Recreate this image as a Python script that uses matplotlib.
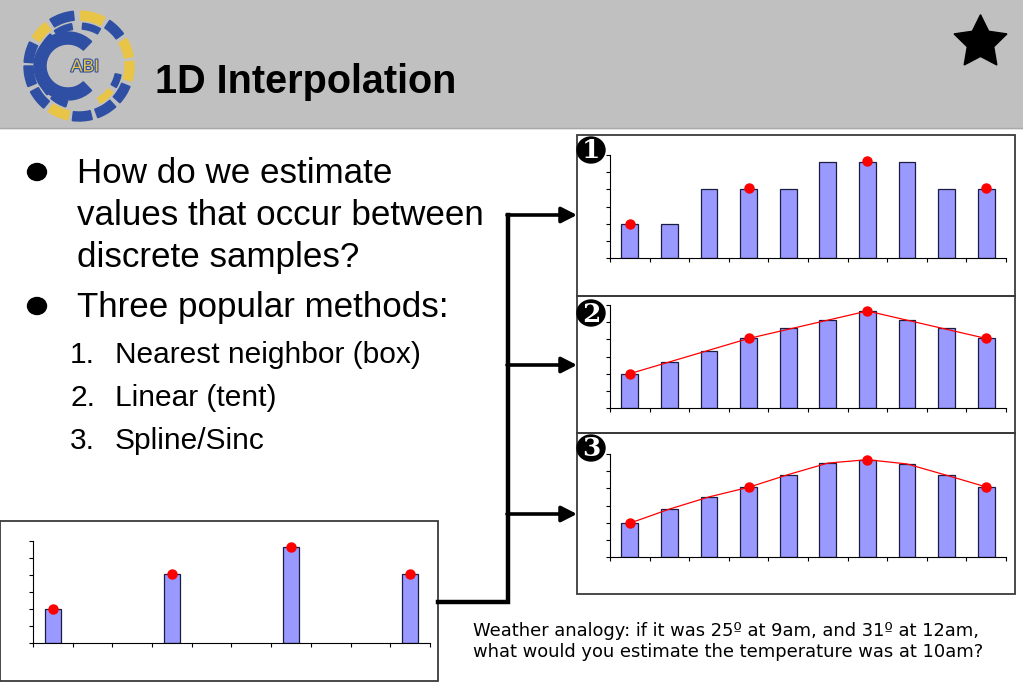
import matplotlib
matplotlib.use('Agg')
import matplotlib.pyplot as plt
from matplotlib.patches import Rectangle, Ellipse, Wedge
import matplotlib.patheffects as pe

# ---------------- data ----------------
slots = list(range(10))                 # 10 sample positions along the x axis
sample_slots = [0, 3, 6, 9]             # known (discrete) samples
sample_vals = [2.0, 4.05, 5.65, 4.05]
nearest_vals = [2.0, 2.0, 4.0, 4.0, 4.0, 5.6, 5.6, 5.6, 4.0, 4.0]
linear_vals = [2.0, 2.67, 3.31, 4.06, 4.65, 5.1, 5.65, 5.1, 4.65, 4.06]
spline_vals = [1.97, 2.79, 3.5, 4.06, 4.8, 5.47, 5.67, 5.42, 4.76, 4.08]

title = "1D Interpolation"
bullets = [["How do we estimate", "values that occur between", "discrete samples?"],
           ["Three popular methods:"]]
methods = ["Nearest neighbor (box)", "Linear (tent)", "Spline/Sinc"]
weather = ["Weather analogy: if it was 25º at 9am, and 31º at 12am,",
           "what would you estimate the temperature was at 10am?"]

BAR = '#9999ff'
EDGE = '#1c1c40'
BLUE = '#2e4fa3'
YEL = '#e8c547'

W, H = 1023, 682
fig = plt.figure(figsize=(W / 100, H / 100), dpi=100)
bg = fig.add_axes([0, 0, 1, 1])
bg.set_xlim(0, W)
bg.set_ylim(H, 0)
bg.axis('off')

# header band
bg.add_patch(Rectangle((0, 0), W, 128, color='#c0c0c0', zorder=0))
bg.plot([0, W], [128, 128], color='#a9a9a9', lw=1)

# logo
cx, cy = 79, 66
outer = [(62, 88, YEL), (36, 56, BLUE), (10, 30, YEL), (-16, 5, YEL), (-42, -22, BLUE),
         (-70, -48, BLUE), (-97, -76, BLUE), (-124, -102, YEL), (-152, -130, BLUE),
         (-180, -158, BLUE), (154, 176, BLUE), (128, 148, YEL), (96, 122, BLUE)]
for a1, a2, c in outer:
    bg.add_patch(Wedge((cx, cy), 55, -a2, -a1, width=9, color=c, zorder=2))
middle = [(100, 125, BLUE), (132, 158, BLUE), (165, 190, BLUE), (197, 222, BLUE),
          (229, 252, BLUE), (-60, -38, YEL), (-30, -12, BLUE), (60, 85, BLUE)]
for a1, a2, c in middle:
    bg.add_patch(Wedge((cx, cy), 43, -a2, -a1, width=6, color=c, zorder=2))
bg.add_patch(Wedge((68, 66), 34, -(360 - 46), -46, width=12, color=BLUE, zorder=3))
bg.text(85, 67, "ABI", fontsize=12.5, color=YEL, ha='center', va='center',
        family='Liberation Sans', zorder=4,
        path_effects=[pe.withStroke(linewidth=1.6, foreground=BLUE)])

bg.text(155, 93, title, fontsize=28.5, fontweight='bold', family='Liberation Sans',
        va='baseline', ha='left', color='black')
bg.plot(980, 42, marker=(5, 1, 0), ms=40, color='black', mec='black')

# bullet text
y_base = [183, 225, 267]
for i, line in enumerate(bullets[0]):
    bg.text(77, y_base[i], line, fontsize=25.2, family='Liberation Sans', va='baseline')
bg.text(77, 317, bullets[1][0], fontsize=25.2, family='Liberation Sans', va='baseline')
for yc in (172, 306):
    bg.add_patch(Ellipse((37, yc), 19, 17, color='black'))
for i, (m, yb) in enumerate(zip(methods, [363, 406, 449])):
    bg.text(70, yb, f"{i + 1}.", fontsize=21.5, family='Liberation Sans', va='baseline')
    bg.text(115, yb, m, fontsize=21.5, family='Liberation Sans', va='baseline')

# weather text
bg.text(473, 636, weather[0], fontsize=12.9, family='DejaVu Sans', va='baseline')
bg.text(473, 657, weather[1], fontsize=12.9, family='DejaVu Sans', va='baseline')

# panel frames
for (x0, y0, x1, y1) in [(577, 135, 1015, 296), (577, 296, 1015, 433), (577, 433, 1015, 594),
                         (0, 521, 438, 681)]:
    bg.add_patch(Rectangle((x0, y0), x1 - x0, y1 - y0, fill=False, ec='#3a3a3a', lw=1.3,
                           zorder=1))

# badges
for k, yc in enumerate([150, 313, 448]):
    bg.add_patch(Ellipse((591, yc), 28, 26, color='black', zorder=5))
    bg.text(591, yc + 1, str(k + 1), fontsize=19, fontweight='bold', color='white',
            family='DejaVu Serif', ha='center', va='center', zorder=6)

# connector arrows
bg.plot([438, 508, 508], [602, 602, 215], color='black', lw=3.2,
        solid_capstyle='projecting', solid_joinstyle='miter', zorder=3)
for ya in (215, 365, 514):
    bg.annotate('', xy=(577, ya), xytext=(507, ya),
                arrowprops=dict(arrowstyle='-|>,head_length=0.55,head_width=0.28',
                                lw=2.6, color='black', mutation_scale=17,
                                shrinkA=0, shrinkB=0), zorder=3)


def px_axes(x0, y0, x1, y1):
    return fig.add_axes([x0 / W, 1 - y1 / H, (x1 - x0) / W, (y1 - y0) / H])


def draw_chart(ax, xs, vals):
    ax.bar([x + 0.5 for x in xs], vals, width=0.42, color=BAR, edgecolor=EDGE,
           linewidth=0.9, zorder=2)
    ax.set_xlim(0, 10)
    ax.set_ylim(0, 6)
    ax.set_xticks(range(11))
    ax.set_yticks(range(7))
    ax.tick_params(length=3, width=0.8, labelbottom=False, labelleft=False,
                   direction='out', color='black')
    for s in ('top', 'right'):
        ax.spines[s].set_visible(False)
    for s in ('left', 'bottom'):
        ax.spines[s].set_linewidth(0.8)
    ax.patch.set_alpha(0)


def dots(ax):
    ax.plot([x + 0.5 for x in sample_slots], sample_vals, 'o', color='red', ms=6.5,
            mec='red', zorder=5, clip_on=False)


ax1 = px_axes(610, 155, 1006, 258)
draw_chart(ax1, slots, nearest_vals)
dots(ax1)

ax2 = px_axes(610, 305, 1006, 408)
draw_chart(ax2, slots, linear_vals)
ax2.plot([x + 0.5 for x in sample_slots], sample_vals, color='red', lw=0.9, zorder=4)
dots(ax2)

ax3 = px_axes(610, 454, 1006, 557)
draw_chart(ax3, slots, spline_vals)
ax3.plot([x + 0.5 for x in slots], spline_vals, color='red', lw=0.9, zorder=4)
dots(ax3)

ax0 = px_axes(33, 541, 430, 643)
draw_chart(ax0, sample_slots, sample_vals)
dots(ax0)

fig.savefig('out.png', dpi=100)
